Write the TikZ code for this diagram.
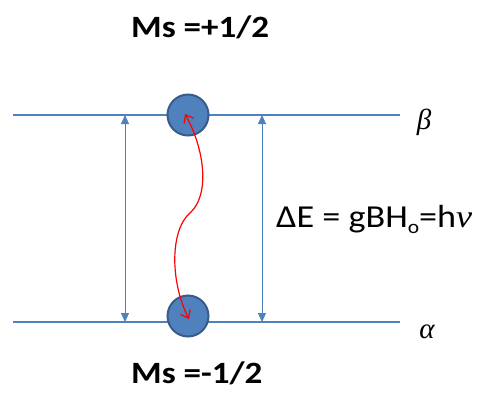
\documentclass[tikz,border=0pt]{standalone}
\usepackage{fontspec}
\setmainfont{Carlito}
\newfontfamily\grk{Liberation Serif}
\usetikzlibrary{arrows.meta}
\definecolor{lvl}{RGB}{79,129,189}
\definecolor{circborder}{RGB}{56,93,138}
\newcommand{\wide}[1]{\scalebox{1.13}[1]{#1}}
\newcommand{\lowo}{\raisebox{-6pt}{\fontsize{19}{20}\selectfont o}}
\tikzset{
  level/.style={draw=lvl, line width=1.3pt},
  gap/.style={draw=lvl, line width=1pt, {Triangle[length=9pt,width=8pt]}-{Triangle[length=9pt,width=8pt]}},
  spin/.style={circle, fill=lvl, draw=circborder, line width=2pt, minimum size=41pt, inner sep=0pt},
  flip/.style={draw=red, line width=1.2pt, {Straight Barb[length=7pt,width=11pt]}-{Straight Barb[length=7pt,width=11pt]}},
  lbl/.style={font=\fontsize{31}{34}\selectfont\bfseries, anchor=base west, inner sep=0pt},
  greek/.style={font=\fontsize{29}{32}\selectfont\grk\itshape, inner sep=0pt},
}
\begin{document}
\begin{tikzpicture}[x=1pt,y=-1pt]
\useasboundingbox (0,0) rectangle (483,397);
\coordinate (l1a) at (13,115);
\coordinate (l1b) at (400,115);
\coordinate (l2a) at (13,322);
\coordinate (l2b) at (400,322);
\draw[level] (l1a) -- (l1b);
\draw[level] (l2a) -- (l2b);
\coordinate (a1t) at (125,115);
\coordinate (a1b) at (125,322);
\coordinate (a2t) at (262,115);
\coordinate (a2b) at (262,322);
\draw[gap] (a1t) -- (a1b);
\draw[gap] (a2t) -- (a2b);
\node[spin] (up) at (188,115) {};
\node[spin] (dn) at (188,316) {};
\coordinate (rt) at (185,114);
\coordinate (rm) at (190,213);
\coordinate (rb) at (189,319);
\draw[flip] (rt) .. controls (205,150) and (210,195) .. (rm) .. controls (170,230) and (170,282) .. (rb);
\node[lbl] (ms1) at (131,37) {\wide{Ms =+1/2}};
\node[lbl] (ms2) at (131,383) {\wide{Ms =-1/2}};
\node[anchor=base west, inner sep=0pt, font=\fontsize{32}{36}\selectfont] (de) at (276,227) {\wide{ΔE = gBH\lowo=h{\grk\itshape ν}}};
\node[greek] (beta) at (424,122) {β};
\node[greek] (alpha) at (427,332) {α};
\end{tikzpicture}
\end{document}
